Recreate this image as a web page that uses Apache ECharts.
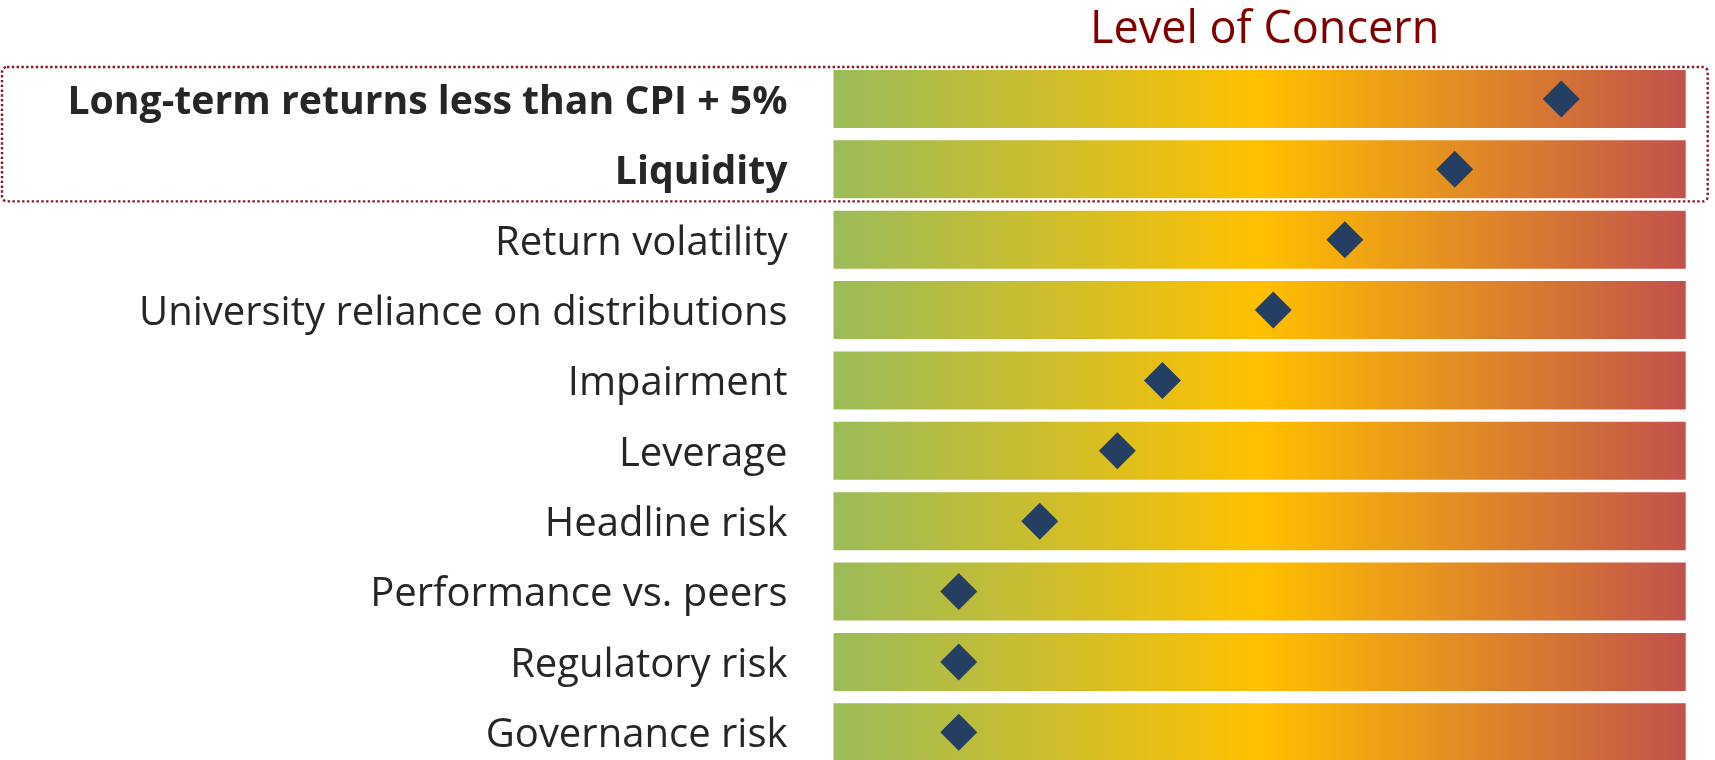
<!DOCTYPE html>
<html>
<head>
<meta charset="utf-8">
<title>Level of Concern</title>
<script src="https://cdn.jsdelivr.net/npm/echarts@6/dist/echarts.min.js"></script>
<style>
  html, body { margin: 0; padding: 0; background: #ffffff; }
  #chart { width: 1715px; height: 760px; }
</style>
</head>
<body>
<div id="chart"></div>
<script>
// Risk categories, listed top to bottom
const categories = [
  'Long-term returns less than CPI + 5%',
  'Liquidity',
  'Return volatility',
  'University reliance on distributions',
  'Impairment',
  'Leverage',
  'Headline risk',
  'Performance vs. peers',
  'Regulatory risk',
  'Governance risk'
];

// Level of concern for each category (0 = low, 100 = high)
const concern = [85.4, 72.9, 60.0, 51.6, 38.6, 33.3, 24.2, 14.7, 14.7, 14.7];

// Full-scale track behind each marker
const scaleMax = 100;
const track = categories.map(() => scaleMax);

// Categories drawn in bold and boxed
const highlighted = [
  'Long-term returns less than CPI + 5%',
  'Liquidity'
];

// Rows sit on the category ticks (first row at the top edge, last at the bottom edge)
const GRID = { left: 833.5, right: 29.3, top: 99, height: 633.3 };
const BAR_HEIGHT = 58;
const BOX_COLOR = '#8A1626';

const chart = echarts.init(document.getElementById('chart'), null, { renderer: 'canvas' });

const concernGradient = new echarts.graphic.LinearGradient(0, 0, 1, 0, [
  { offset: 0, color: '#9BBB59' },
  { offset: 0.5, color: '#FFC000' },
  { offset: 1, color: '#C2524C' }
]);

const option = {
  animation: false,
  backgroundColor: '#ffffff',
  title: {
    text: 'Level of Concern',
    left: GRID.left + (1715 - GRID.left - GRID.right) / 2,
    textAlign: 'center',
    top: 3,
    textStyle: {
      fontFamily: 'Open Sans',
      fontWeight: 'normal',
      fontSize: 45,
      color: '#800000'
    }
  },
  grid: {
    left: GRID.left,
    right: GRID.right,
    top: GRID.top,
    height: GRID.height,
    containLabel: false
  },
  xAxis: {
    type: 'value',
    min: 0,
    max: scaleMax,
    show: false
  },
  yAxis: {
    type: 'category',
    data: categories,
    inverse: true,
    boundaryGap: false,
    axisLine: { show: false },
    axisTick: { show: false },
    splitLine: { show: false },
    axisLabel: {
      margin: 46,
      formatter: (v) => highlighted.includes(v) ? '{b|' + v + '}' : '{n|' + v + '}',
      rich: {
        b: { fontFamily: 'Open Sans', fontSize: 39.2, fontWeight: 'bold', color: '#262626', padding: [7, 0, 0, 0] },
        n: { fontFamily: 'Open Sans', fontSize: 40, fontWeight: 'normal', color: '#262626', padding: [7, 0, 0, 0] }
      }
    }
  },
  series: [
    {
      type: 'bar',
      data: track,
      barWidth: BAR_HEIGHT,
      clip: false,
      silent: true,
      itemStyle: { color: concernGradient }
    },
    {
      type: 'scatter',
      data: concern.map((v, i) => [v, categories[i]]),
      symbol: 'diamond',
      symbolSize: 37,
      clip: false,
      itemStyle: { color: '#243F61', opacity: 1 },
      z: 5
    }
  ]
};

chart.setOption(option);

// Dotted frame around the highlighted rows, placed from the axis scale
function drawHighlightBox() {
  const first = highlighted[0];
  const last = highlighted[highlighted.length - 1];
  const pTop = chart.convertToPixel({ gridIndex: 0 }, [scaleMax, first]);
  const pBot = chart.convertToPixel({ gridIndex: 0 }, [scaleMax, last]);
  const half = BAR_HEIGHT / 2 + 3;
  const x0 = 2;
  const x1 = pTop[0] + 22;
  const y0 = pTop[1] - half;
  const y1 = pBot[1] + half;
  chart.setOption({
    graphic: [{
      type: 'rect',
      id: 'highlightBox',
      z: 10,
      shape: { x: x0, y: y0, width: x1 - x0, height: y1 - y0, r: 5 },
      style: {
        fill: 'transparent',
        stroke: BOX_COLOR,
        lineWidth: 2.4,
        lineDash: [2.4, 2.4]
      },
      silent: true
    }]
  });
}
drawHighlightBox();
</script>
</body>
</html>
